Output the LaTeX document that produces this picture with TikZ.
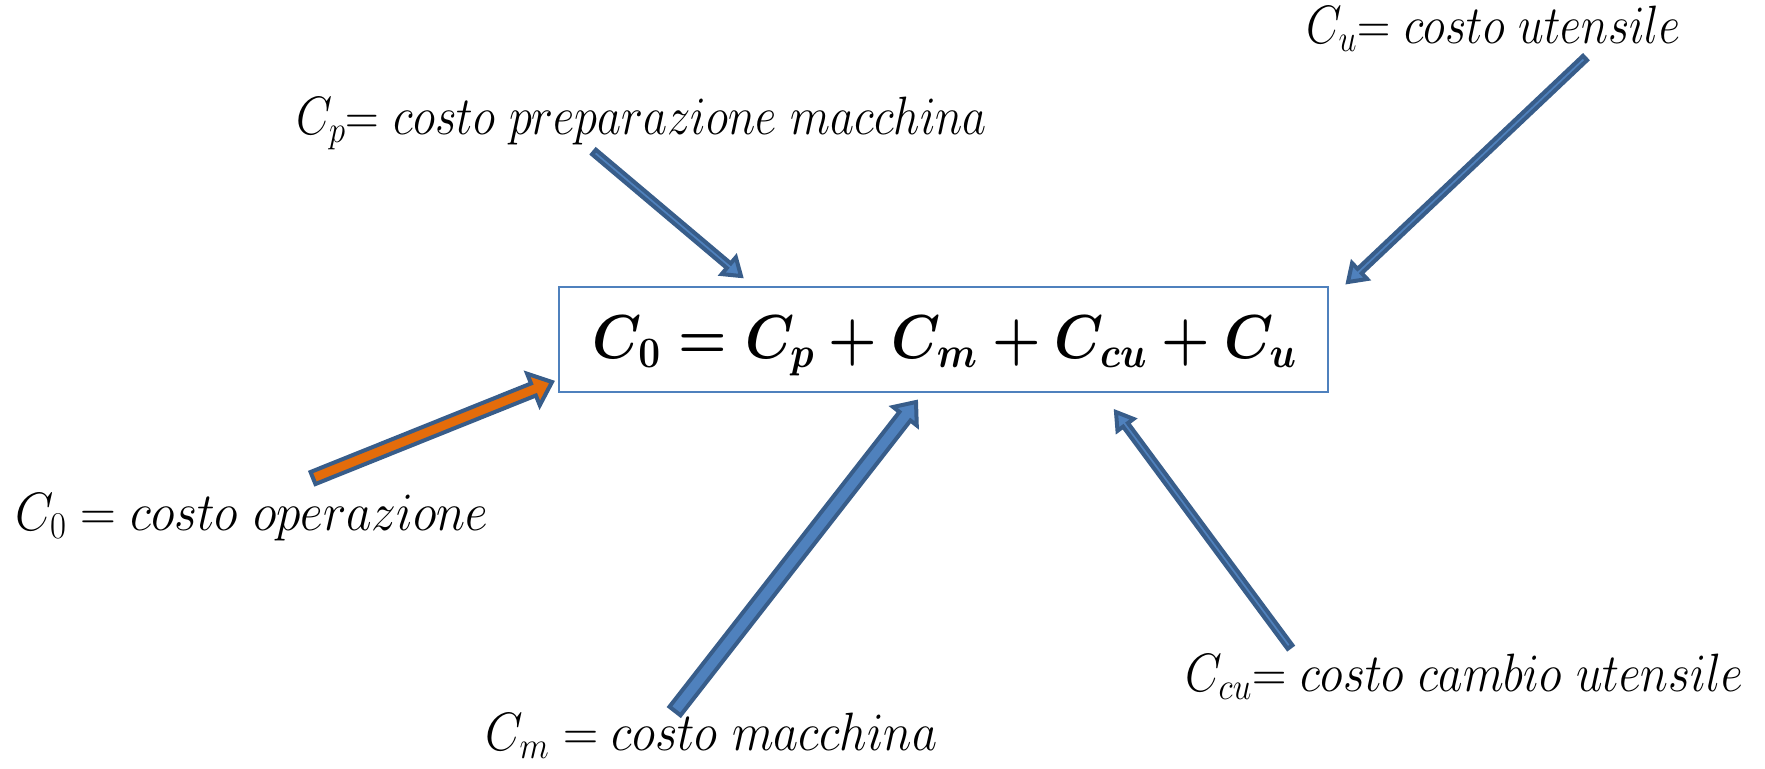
\RequirePackage{fix-cm}
\documentclass[tikz,border=0pt]{standalone}
\usepackage{graphicx}
\usetikzlibrary{calc}
\definecolor{arrline}{HTML}{385D8A}
\definecolor{arrfill}{HTML}{4F81BD}
\definecolor{orfill}{HTML}{E46C0A}
\definecolor{boxline}{HTML}{4F81BD}
\newcommand\blockarrow[6]{%
  \coordinate (ba-h) at ($(#2)!#5!(#1)$);
  \draw[#6] ($(#1)!#3!90:(#2)$) -- ($(ba-h)!#3!90:(#2)$) -- ($(ba-h)!#4!90:(#2)$) -- (#2)
    -- ($(ba-h)!#4!-90:(#2)$) -- ($(ba-h)!#3!-90:(#2)$) -- ($(#1)!#3!-90:(#2)$) -- cycle;}
\tikzset{
  lbl/.style={anchor=base west, inner sep=0pt, font=\fontsize{27}{32}\selectfont},
  thinarr/.style={draw=arrline, fill=arrfill, line width=2pt, line join=miter},
  widearr/.style={draw=arrline, fill=arrfill, line width=2pt, line join=miter},
  orangearr/.style={draw=arrline, fill=orfill, line width=2pt, line join=miter},
  eqbox/.style={draw=boxline, line width=0.75pt, inner sep=0pt}
}
\begin{document}
\begin{tikzpicture}[x=0.5pt,y=-0.5pt]
\useasboundingbox (0,0) rectangle (1765,768);
% box and equation
\node[eqbox, minimum width=384.5pt, minimum height=52.5pt] (box) at (943.5,339.5) {};
\node[anchor=base, inner sep=0pt, font=\fontsize{31}{36}\selectfont] (eq) at (945,358)
  {\resizebox{352pt}{\height}{\boldmath$C_0 = C_p + C_m + C_{cu} + C_u$}};
% labels
\node[lbl] (lp) at (296,134) {\resizebox{345.5pt}{\height}{$C_p{=}\ costo\ preparazione\ macchina$}};
\node[lbl] (lu) at (1306,43) {\resizebox{187pt}{\height}{$C_u{=}\ costo\ utensile$}};
\node[lbl] (l0) at (15,530) {\resizebox{236.5pt}{\height}{$C_0 = costo\ operazione$}};
\node[lbl] (lm) at (485,750) {\resizebox{226pt}{\height}{$C_m = costo\ macchina$}};
\node[lbl] (lcu) at (1185,691) {\resizebox{279pt}{\height}{$C_{cu}{=}\ costo\ cambio\ utensile$}};
% arrow end points
\coordinate (pS) at (594,152);  \coordinate (pE) at (741,276);
\coordinate (uS) at (1585,58);  \coordinate (uE) at (1348,282);
\coordinate (oS) at (313,478);  \coordinate (oE) at (552,382);
\coordinate (mS) at (675,711);  \coordinate (mE) at (916,402);
\coordinate (cS) at (1290,647); \coordinate (cE) at (1116,412);
% arrows
\blockarrow{pS}{pE}{1.5pt}{5.5pt}{8pt}{thinarr}
\blockarrow{uS}{uE}{1.5pt}{5.5pt}{8pt}{thinarr}
\blockarrow{cS}{cE}{1.5pt}{5pt}{8pt}{thinarr}
\blockarrow{mS}{mE}{3.5pt}{7.5pt}{9pt}{widearr}
\blockarrow{oS}{oE}{3.25pt}{8.5pt}{10pt}{orangearr}
\end{tikzpicture}
\end{document}
